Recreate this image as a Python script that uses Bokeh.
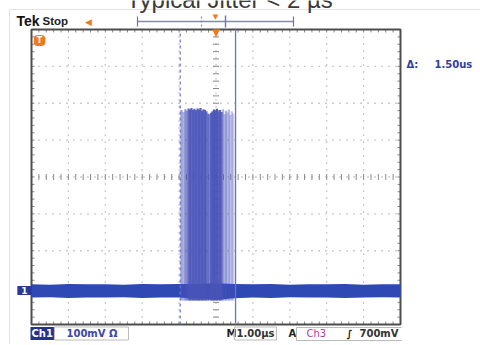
import numpy as np
from bokeh.plotting import figure
from bokeh.models import Range1d, Label, Arrow
from bokeh.embed import file_html
from bokeh.resources import INLINE

# ---------------- data ----------------
title_text = "Typical Jitter < 2 µs"
status_text = "Stop"
time_div = 1.0          # µs / div
volt_div = 100          # mV / div
ch1_scale = "100mV Ω"
timebase = "1.00µs"
trig_src = "Ch3"
trig_level = "700mV"

# noise band of the baseline (mV) versus time (µs)
band_t = [-5.0, -4.5, -4.0, -3.5, -3.0, -2.5, -2.0, -1.5, -1.0, -0.5, 0.0,
          0.5, 1.0, 1.5, 2.0, 2.5, 3.0, 3.5, 4.0, 4.5, 5.0]
band_hi = [-291, -292, -290, -291, -291, -292, -290, -291, -290, -290, -288,
           -290, -291, -290, -292, -291, -291, -290, -292, -291, -291]
band_lo = [-327, -326, -328, -327, -327, -326, -328, -327, -327, -330, -333,
           -329, -327, -328, -326, -327, -327, -328, -327, -326, -327]

# burst of pulses (time µs, top mV, opacity)
burst_t = [-0.935, -0.88, -0.83, -0.79, -0.745, -0.705, -0.665, -0.62, -0.585,
           -0.54, -0.50, -0.46, -0.42, -0.38, -0.34, -0.30, -0.26, -0.22, -0.18,
           -0.135, -0.095, -0.055, -0.015, 0.025, 0.07, 0.11, 0.15, 0.19, 0.23,
           0.27, 0.31, 0.35, 0.39, 0.43, 0.47]
burst_top = [182, 176, 184, 180, 186, 183, 187, 182, 185,
             181, 186, 183, 187, 180, 184, 182, 178, 172, 170,
             174, 178, 183, 180, 185, 178, 182, 176, 184, 170,
             180, 175, 183, 168, 178, 172]
burst_alpha = [0.55, 0.45, 0.6, 0.55, 0.85, 0.9, 0.9, 0.9, 0.9,
               0.9, 0.9, 0.9, 0.9, 0.9, 0.9, 0.9, 0.85, 0.7, 0.7,
               0.9, 0.95, 0.95, 0.95, 0.95, 0.9, 0.9, 0.85, 0.45, 0.4,
               0.45, 0.35, 0.4, 0.3, 0.35, 0.3]
burst_bottom = -335

cursor_a = -0.97   # µs, dashed cursor
cursor_b = 0.53    # µs, solid cursor
trigger_t = 0.0

# ---------------- layout ----------------
W, H = 480, 344
FL, FR, FT, FB = 31, 400, 29, 324          # graticule box in pixels
XMIN, XMAX = -5 * time_div, 5 * time_div
YMIN, YMAX = -4 * volt_div, 4 * volt_div
PX_X = (XMAX - XMIN) / (FR - FL)           # data units per pixel
PX_Y = (YMAX - YMIN) / (FB - FT)


def X(px):
    return XMIN + (px - FL) * PX_X


def Y(py):
    return YMAX - (py - FT) * PX_Y


p = figure(width=W, height=H, x_range=Range1d(X(0), X(W)), y_range=Range1d(Y(H), Y(0)),
           output_backend="svg", toolbar_location=None,
           x_axis_type=None, y_axis_type=None, min_border=0)
p.outline_line_color = None
p.background_fill_color = "white"
p.border_fill_color = "white"

# ---- graticule ----
xdivs = [k * time_div for k in range(-4, 5) if k != 0]
ydivs = [k * volt_div for k in range(-3, 4) if k != 0]
p.segment(x0=xdivs, y0=[YMIN] * len(xdivs), x1=xdivs, y1=[YMAX] * len(xdivs),
          line_color="#9a9a9a", line_dash="1 6", line_width=1.3)
p.segment(x0=[XMIN] * len(ydivs), y0=ydivs, x1=[XMAX] * len(ydivs), y1=ydivs,
          line_color="#9a9a9a", line_dash="1 6", line_width=1.3)
# center cross
p.segment(x0=[0, XMIN], y0=[YMIN, 0], x1=[0, XMAX], y1=[YMAX, 0],
          line_color="#a0a0a0", line_dash="1 6", line_width=1.3)
xminor = list(np.round(np.arange(XMIN, XMAX + 1e-9, 0.2 * time_div), 3))
yminor = list(np.round(np.arange(YMIN, YMAX + 1e-9, 0.2 * volt_div), 3))
p.scatter(x=xminor[1:-1], y=[0] * (len(xminor) - 2), marker="dash", size=6, angle=np.pi / 2,
          line_color="#8a8a8a", line_width=1)
p.scatter(x=[0] * (len(yminor) - 2), y=yminor[1:-1], marker="dash", size=6,
          line_color="#8a8a8a", line_width=1)
# inward edge ticks
tl = 3
p.segment(x0=xminor, y0=[YMIN] * len(xminor), x1=xminor, y1=[YMIN + tl * PX_Y] * len(xminor),
          line_color="#888888", line_width=1)
p.segment(x0=xminor, y0=[YMAX] * len(xminor), x1=xminor, y1=[YMAX - tl * PX_Y] * len(xminor),
          line_color="#888888", line_width=1)
p.segment(x0=[XMIN] * len(yminor), y0=yminor, x1=[XMIN + tl * PX_X] * len(yminor), y1=yminor,
          line_color="#888888", line_width=1)
p.segment(x0=[XMAX] * len(yminor), y0=yminor, x1=[XMAX - tl * PX_X] * len(yminor), y1=yminor,
          line_color="#888888", line_width=1)
# graticule frame
p.quad(left=[XMIN], right=[XMAX], bottom=[YMIN], top=[YMAX], fill_color=None,
       line_color="#4d4d4d", line_width=2)

# ---- trace ----
p.varea(x=band_t, y1=band_lo, y2=band_hi, fill_color="#2f49b4")
p.segment(x0=burst_t, y0=[burst_bottom] * len(burst_t), x1=burst_t, y1=burst_top,
          line_color="#4a54b8", line_alpha=burst_alpha, line_width=2.2)

# ---- cursors ----
p.segment(x0=[cursor_a], y0=[YMIN], x1=[cursor_a], y1=[YMAX], line_color="#6a72c6",
          line_dash="3 3", line_width=1.2)
p.segment(x0=[cursor_b], y0=[YMIN], x1=[cursor_b], y1=[YMAX], line_color="#6a72c6",
          line_width=1.3)


def lab(px, py, text, size, color, font="DejaVu Sans", bold=True, align="left",
        baseline="middle", **kw):
    p.add_layout(Label(x=X(px), y=Y(py), text=text, text_font=font,
                       text_font_size=f"{size}px", text_color=color,
                       text_font_style="bold" if bold else "normal",
                       text_align=align, text_baseline=baseline, **kw))


def seg(px0, py0, px1, py1, color, width=1.2, dash="solid"):
    p.add_layout(Arrow(end=None, x_start=X(px0), y_start=Y(py0), x_end=X(px1), y_end=Y(py1),
                       line_color=color, line_width=width, line_dash=dash))


# faint page border
seg(9, 345, 9, 9, "#e2e2e2", 1)
seg(9, 9, 480, 9, "#e2e2e2", 1)

# title (partly above the picture, as in the reference)
lab(229, -1, title_text, 24, "#3a3a3a", font="Liberation Sans", bold=False, align="center")

# top status bar
lab(16, 20, "Tek", 14, "#111111", font="Liberation Sans")
lab(42, 20, status_text, 11.5, "#222222", font="Liberation Sans")
lab(88, 21, "◀", 9, "#f07a1a", align="center")

# record view bracket
seg(137, 21, 293, 21, "#8088cc", 1.5)
seg(137, 16, 137, 26, "#777777", 1.2)
seg(293, 16, 293, 26, "#777777", 1.2)
seg(201, 16, 201, 26, "#8088cc", 1.2, "2 2")
seg(225, 15, 225, 27, "#6a72c6", 1.4)
lab(215, 16, "▼", 7, "#f07a1a", align="center")

# trigger position marker at top of graticule
p.add_layout(Label(x=trigger_t, y=Y(32), text="▼", text_font="DejaVu Sans",
                   text_font_size="10px", text_color="#f07a1a",
                   text_align="center", text_baseline="middle"))

# trigger level tag "T" and channel 1 tag
lab(39, 40, "T", 8, "white", align="center", background_fill_color="#f07a1a",
    border_radius=4, padding=dict(left=3, right=3, top=1, bottom=1))
lab(24, 290, "1", 9, "white", align="center", background_fill_color="#2b3990",
    padding=dict(left=4, right=4, top=1, bottom=1))

# cursor readout
lab(406, 64, "Δ:", 10, "#3040a0")
lab(434, 64, f"{cursor_b - cursor_a:.2f}us", 10, "#3040a0")

# bottom status bar
lab(30, 333, "Ch1", 10, "white", background_fill_color="#25318a",
    padding=dict(left=1, right=1, top=1, bottom=1))
lab(54, 333, ch1_scale, 10, "#3a48a6", border_line_color="#bbbbbb",
    padding=dict(left=12, right=11, top=1, bottom=1))
lab(226, 333, "M", 10, "#222222")
lab(234, 333, timebase, 10, "#333333", border_line_color="#bbbbbb",
    padding=dict(left=2, right=2, top=1, bottom=1))
lab(288, 333, "A", 10, "#222222")
lab(306, 333, trig_src, 10, "#b03aa8", bold=False)
lab(346, 333, "∫", 10, "#222222")
lab(359, 333, trig_level, 10, "#333333")
seg(296, 327, 401, 327, "#bbbbbb", 1)
seg(296, 340, 401, 340, "#bbbbbb", 1)
seg(296, 327, 296, 340, "#bbbbbb", 1)

open("out.html", "w").write(file_html(p, INLINE))
